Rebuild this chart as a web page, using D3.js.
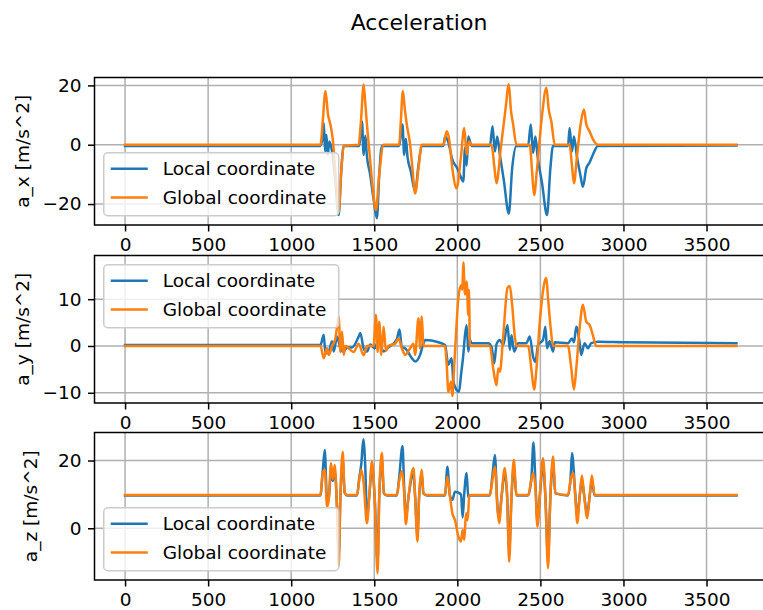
<!DOCTYPE html>
<html>
<head>
<meta charset="utf-8">
<script src="https://cdn.jsdelivr.net/npm/d3@7"></script>
<style>
  body { margin: 0; background: #fff; }
  svg { display: block; }
  text { font-family: "DejaVu Sans", sans-serif; fill: #000; }
</style>
</head>
<body>
<svg id="chart" width="763" height="610"></svg>
<script>
// ---- data -------------------------------------------------------------
const figureTitle = "Acceleration";
const seriesNames = ["Local coordinate", "Global coordinate"];
const axisLabels = ["a_x [m/s^2]", "a_y [m/s^2]", "a_z [m/s^2]"];
const lastSample = 3680;
const xTicks = [0, 500, 1000, 1500, 2000, 2500, 3000, 3500];
const yTicksAx = [-20, 0, 20];
const yTicksAy = [-10, 0, 10];
const yTicksAz = [0, 20];
const legendCorner = ["lower", "upper", "lower"];

// [sample, value] pairs
const axLocal = [[0,-0.4],[1176,-0.4],[1190,3],[1196,7.3],[1204,-2.3],[1212,3.4],[1220,-3.4],[1230,1.1],[1245,-2],[1265,-12],[1286,-23.7],[1300,-10],[1316,-0.4],[1410,-0.4],[1426,7.9],[1436,-3.4],[1446,3],[1456,-4],[1475,-10],[1495,-18],[1516,-24.8],[1530,-10],[1546,-0.4],[1650,-0.4],[1670,6.8],[1680,-3.4],[1690,2],[1700,-4],[1720,-9],[1746,-15.8],[1766,-7],[1786,-0.4],[1916,-0.4],[1926,2.8],[1945,1],[1970,-5],[2000,-8],[2016,-10.2],[2036,-12.4],[2046,-1],[2056,-7],[2066,2.8],[2086,-0.4],[2196,-0.4],[2212,6.2],[2226,-2.3],[2240,2.8],[2256,-3.4],[2280,-12],[2310,-23.2],[2330,-8],[2356,-0.4],[2426,-0.4],[2442,6.8],[2456,-2.8],[2470,2.8],[2482,-3.4],[2510,-13],[2540,-23.7],[2560,-8],[2576,-0.4],[2666,-0.4],[2676,5.6],[2690,-2.3],[2702,2.8],[2720,-4],[2740,-10],[2756,-14.2],[2776,-8],[2796,-6],[2816,-3.4],[2846,-0.4],[3680,-0.3]];
const axGlobal = [[0,0],[1176,0],[1190,8],[1206,18.1],[1222,10],[1236,6.8],[1250,2],[1270,-12],[1286,-22.6],[1300,-10],[1316,-0.3],[1406,0],[1420,8],[1436,20.3],[1446,14],[1456,6.8],[1470,-2],[1490,-14],[1510,-22],[1530,-10],[1556,0],[1650,0],[1660,8],[1672,18.1],[1684,12],[1696,6.8],[1716,0],[1730,-8],[1746,-16.4],[1766,-8],[1786,0],[1916,0],[1936,4.5],[1950,2],[1970,-8],[1996,-14.7],[2020,-5],[2042,5.6],[2056,-3.4],[2070,1.1],[2086,0],[2206,0],[2222,-7],[2236,-13],[2260,-2],[2290,12],[2310,20.4],[2322,12],[2336,6.8],[2356,0],[2436,0],[2450,-9],[2462,-17],[2480,-8],[2510,10],[2536,19.2],[2550,12],[2566,7.8],[2586,0],[2676,0],[2690,-7],[2702,-13],[2720,-4],[2745,8],[2762,11.9],[2776,7],[2796,4.5],[2820,1.5],[2846,0],[3680,0]];

const ayLocal = [[0,0.2],[1176,0.2],[1196,2.4],[1206,-1.6],[1226,-1.2],[1246,1],[1256,-1.2],[1276,2],[1296,-0.5],[1316,-1.2],[1336,-0.3],[1366,-0.3],[1406,2],[1416,2.8],[1436,-0.5],[1456,-1.2],[1476,0.3],[1502,-0.5],[1526,1.3],[1556,-1.2],[1586,-0.3],[1636,1.5],[1652,3.5],[1666,-0.3],[1686,-0.5],[1726,-2.6],[1746,-3.3],[1776,-1.9],[1796,0.6],[1806,1.3],[1886,0.8],[1926,0.2],[1946,-4],[1966,-2.6],[1976,-7.6],[1996,-9.4],[2010,-9.8],[2022,-6.2],[2036,-1.9],[2046,2.3],[2056,4.5],[2066,-1.2],[2076,1.3],[2086,0.6],[2186,0.6],[2206,-0.2],[2222,-3.7],[2236,0.4],[2256,1.3],[2276,0.2],[2302,4.5],[2316,-0.8],[2326,2.3],[2342,-1.2],[2366,0.6],[2416,0.6],[2436,2],[2456,-2.3],[2470,-3.4],[2486,0.2],[2516,1.3],[2530,4.1],[2540,-0.5],[2556,1],[2576,-1.2],[2586,0.8],[2666,0.6],[2690,1.6],[2702,0.8],[2716,4.1],[2736,0.8],[2746,-1.9],[2766,0.6],[2786,-0.5],[2806,0.6],[2846,0.9],[3000,0.8],[3680,0.6]];
const ayGlobal = [[0,0],[1176,0],[1196,-2.6],[1216,-0.5],[1226,-1.9],[1246,0],[1266,1.6],[1286,6.3],[1296,-1.3],[1306,3.1],[1316,-1.9],[1326,0],[1376,-1.3],[1406,0.5],[1436,-2],[1456,0],[1496,0],[1510,6.6],[1520,-1.3],[1530,5.2],[1542,-1.9],[1556,4.1],[1570,-1],[1586,0],[1626,0.5],[1646,1.6],[1666,-0.5],[1686,-1.9],[1716,-0.5],[1736,0.5],[1746,-1.9],[1766,5.9],[1776,-0.5],[1786,6.3],[1796,0],[1926,0],[1936,-4],[1946,-9.8],[1962,-7.6],[1970,-10.75],[1980,-5],[1996,5],[2006,10.2],[2022,13],[2030,12],[2036,17.9],[2046,11],[2056,13.8],[2066,6.6],[2070,12],[2076,0],[2196,0],[2216,-4.8],[2236,-8.4],[2246,-4.8],[2256,-5.5],[2276,2],[2302,12.4],[2316,12.8],[2330,8.8],[2346,2],[2356,0],[2426,0],[2446,-5],[2462,-9.3],[2476,-5],[2496,5],[2526,13.8],[2536,14.5],[2546,10.2],[2562,3.8],[2576,0],[2666,0],[2686,-4.8],[2702,-9.3],[2716,-4.8],[2736,3.8],[2756,8.8],[2776,5.2],[2796,4.5],[2816,2.3],[2836,0],[3680,0]];

const azLocal = [[0,9.7],[1176,9.7],[1190,17],[1202,23.1],[1216,8],[1226,9],[1240,17],[1250,14],[1262,17],[1276,6],[1286,-8],[1296,9],[1310,20],[1322,10.5],[1336,9.7],[1396,9.7],[1410,15],[1422,19],[1434,26.3],[1446,18],[1456,3],[1470,9.5],[1486,18],[1502,9.5],[1520,-10],[1530,9.5],[1546,20],[1558,10.3],[1576,9.7],[1636,9.7],[1650,15],[1670,24.3],[1680,12],[1690,3],[1706,9.3],[1736,16],[1746,9.3],[1760,-2],[1770,9.3],[1786,16],[1796,10.3],[1816,9.7],[1926,9.7],[1940,18.2],[1956,9.5],[1970,8.4],[1986,10.8],[2006,10.5],[2022,10],[2032,3.2],[2042,10.5],[2056,16.3],[2066,9],[2076,9.7],[2196,9.7],[2210,15],[2226,21.6],[2242,6],[2252,3],[2266,9.3],[2286,16],[2300,9.3],[2312,-7],[2326,9.3],[2340,18],[2356,9.7],[2426,9.7],[2446,15],[2458,25.3],[2472,11],[2482,2],[2496,9.3],[2516,18.5],[2530,9.3],[2546,-9],[2560,9.3],[2576,19],[2590,10.3],[2666,9.7],[2682,15],[2690,22.2],[2710,10],[2722,3],[2736,9.3],[2750,14],[2762,10.3],[2782,4],[2796,9.3],[2810,14],[2826,9.7],[3680,9.7]];
const azGlobal = [[0,9.8],[1176,9.8],[1190,16.3],[1202,17.3],[1216,6.4],[1226,8.4],[1240,19.2],[1250,14.5],[1262,18.7],[1276,5],[1286,-11.3],[1296,9],[1310,22.6],[1322,10.5],[1336,9.8],[1396,9.8],[1410,14.3],[1422,17.3],[1436,13.3],[1456,1.5],[1470,9.5],[1486,19.7],[1502,9.5],[1520,-13.3],[1530,9.5],[1546,22.2],[1558,10.3],[1576,9.8],[1636,9.8],[1650,14],[1666,16.8],[1680,10.3],[1690,1.2],[1706,9.3],[1736,17.8],[1746,9.3],[1760,-3.9],[1770,9.3],[1786,17.3],[1796,10.3],[1816,9.8],[1926,9.8],[1940,15.2],[1956,9.3],[1970,4.4],[1986,2.4],[2006,-2.4],[2022,-3.9],[2032,-0.5],[2042,-3.4],[2052,4.4],[2062,2.4],[2072,9.8],[2196,9.8],[2210,13.8],[2226,18.2],[2242,5.4],[2252,1.5],[2266,9.3],[2286,17.8],[2300,9.3],[2312,-9.9],[2326,9.3],[2340,20.2],[2356,9.8],[2426,9.8],[2446,14.3],[2458,16.3],[2472,10.3],[2482,0.5],[2496,9.3],[2516,20.7],[2530,9.3],[2546,-11.8],[2560,9.3],[2576,21.2],[2590,10.3],[2666,9.8],[2682,14.3],[2696,16.3],[2710,9.3],[2722,1.5],[2736,9.3],[2750,15.6],[2762,10.3],[2782,3.0],[2796,9.3],[2810,15.6],[2826,9.8],[3680,9.8]];

// ---- layout -----------------------------------------------------------
const colors = ["#1f77b4", "#ff7f0e"];
const fontPx = 18.5;
const plotLeft = 94.5, plotRight = 767;
const panelTops = [77.5, 255.5, 432.5];
const panelHeight = 147.5;
const labelX = [23, 23, 31];

const panels = [
  { series: [axLocal, axGlobal], ticks: yTicksAx },
  { series: [ayLocal, ayGlobal], ticks: yTicksAy },
  { series: [azLocal, azGlobal], ticks: yTicksAz }
];

const svg = d3.select("#chart");
svg.append("rect").attr("width", 763).attr("height", 610).attr("fill", "#fff");

svg.append("text")
  .attr("x", 419).attr("y", 30)
  .attr("text-anchor", "middle")
  .style("font-size", "22px")
  .text(figureTitle);

// matplotlib-style 5% margins
const xPad = 0.05 * lastSample;
const x = d3.scaleLinear()
  .domain([-xPad, lastSample + xPad])
  .range([plotLeft, plotRight]);

const fmt = d3.format("d");

panels.forEach((p, i) => {
  const top = panelTops[i], bottom = top + panelHeight;
  const all = p.series.flat().map(d => d[1]);
  const [lo, hi] = d3.extent(all);
  const pad = 0.05 * (hi - lo);
  const y = d3.scaleLinear().domain([lo - pad, hi + pad]).range([bottom, top]);

  const g = svg.append("g");
  const clipId = "clip" + i;
  g.append("clipPath").attr("id", clipId)
    .append("rect").attr("x", plotLeft).attr("y", top)
    .attr("width", plotRight - plotLeft).attr("height", panelHeight);

  // grid
  g.append("g").selectAll("line").data(xTicks).join("line")
    .attr("x1", d => x(d)).attr("x2", d => x(d))
    .attr("y1", top).attr("y2", bottom)
    .attr("stroke", "#b0b0b0").attr("stroke-width", 1.5);
  g.append("g").selectAll("line").data(p.ticks).join("line")
    .attr("x1", plotLeft).attr("x2", plotRight)
    .attr("y1", d => y(d)).attr("y2", d => y(d))
    .attr("stroke", "#b0b0b0").attr("stroke-width", 1.5);

  // series
  const line = d3.line().x(d => x(d[0])).y(d => y(d[1])).curve(d3.curveMonotoneX);
  const lines = g.append("g").attr("clip-path", `url(#${clipId})`);
  p.series.forEach((s, k) => {
    lines.append("path").datum(s)
      .attr("d", line)
      .attr("fill", "none")
      .attr("stroke", colors[k])
      .attr("stroke-width", 2.5)
      .attr("stroke-linejoin", "round")
      .attr("stroke-linecap", "square");
  });

  // axes
  const xAxis = d3.axisBottom(x).tickValues(xTicks).tickFormat(fmt)
    .tickSize(6.5).tickPadding(6.5);
  const yAxis = d3.axisLeft(y).tickValues(p.ticks).tickFormat(fmt)
    .tickSize(6.5).tickPadding(6.5);
  const gx = g.append("g").attr("transform", `translate(0,${bottom})`).call(xAxis);
  const gy = g.append("g").attr("transform", `translate(${plotLeft},0)`).call(yAxis);
  [gx, gy].forEach(a => {
    a.select(".domain").remove();
    a.selectAll(".tick line").attr("stroke", "#000").attr("stroke-width", 1.5);
    a.selectAll(".tick text").style("font-size", fontPx + "px")
      .style("font-family", "DejaVu Sans").attr("fill", "#000");
  });

  // frame
  g.append("rect")
    .attr("x", plotLeft).attr("y", top)
    .attr("width", plotRight - plotLeft).attr("height", panelHeight)
    .attr("fill", "none").attr("stroke", "#000").attr("stroke-width", 1.5);

  // y label
  g.append("text")
    .attr("transform", `translate(${labelX[i]},${(top + bottom) / 2}) rotate(-90)`)
    .attr("text-anchor", "middle")
    .attr("dy", "0.35em")
    .style("font-size", fontPx + "px")
    .text(axisLabels[i]);

  // legend
  const boxW = 235, boxH = 63;
  const boxX = plotLeft + 9.25;
  const boxY = legendCorner[i] === "upper" ? top + 9.25 : bottom - 9.25 - boxH;
  const lg = g.append("g");
  lg.append("rect")
    .attr("x", boxX).attr("y", boxY).attr("width", boxW).attr("height", boxH)
    .attr("rx", 4).attr("fill", "#fff").attr("fill-opacity", 0.8)
    .attr("stroke", "#cccccc").attr("stroke-width", 1.5);
  seriesNames.forEach((name, k) => {
    const ry = boxY + 16 + k * 28.7;
    lg.append("line")
      .attr("x1", boxX + 7).attr("x2", boxX + 44)
      .attr("y1", ry).attr("y2", ry)
      .attr("stroke", colors[k]).attr("stroke-width", 2.5);
    lg.append("text")
      .attr("x", boxX + 59).attr("y", ry).attr("dy", "0.35em")
      .style("font-size", fontPx + "px")
      .text(name);
  });
});
</script>
</body>
</html>
